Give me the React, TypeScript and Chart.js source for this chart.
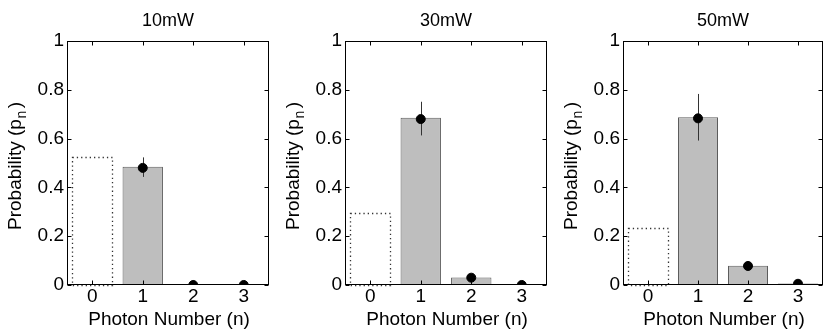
import React, { useEffect, useRef } from 'react';
import { Chart, registerables } from 'chart.js';

Chart.register(...registerables);

// ---------- data ----------
const categories = ['0', '1', '2', '3'];
const panelTitles = ['10mW', '30mW', '50mW'];

const bars10 = [0.525, 0.485, 0.003, 0];
const bars30 = [0.297, 0.685, 0.031, 0.001];
const bars50 = [0.235, 0.687, 0.079, 0.006];

const dots10 = [null, 0.48, 0.0, 0.0];
const dots30 = [null, 0.68, 0.03, 0.0];
const dots50 = [null, 0.683, 0.078, 0.005];

const errLow10 = [null, 0.443, null, null];
const errHigh10 = [null, 0.523, null, null];
const errLow30 = [null, 0.613, null, null];
const errHigh30 = [null, 0.751, null, null];
const errLow50 = [null, 0.592, null, null];
const errHigh50 = [null, 0.783, null, null];

const xTitle = 'Photon Number (n)';
const yTitleMain = 'Probability (p';
const yTitleSub = 'n';
const yTitleEnd = ')';

const allBars = [bars10, bars30, bars50];
const allDots = [dots10, dots30, dots50];
const allErrLow = [errLow10, errLow30, errLow50];
const allErrHigh = [errHigh10, errHigh30, errHigh50];

// ---------- layout ----------
const panelWidths = [278, 278, 274];
const rightPads = [9, 9, 7];
const FONT = '"Liberation Sans", Arial, Helvetica, sans-serif';

const panelPlugin = {
  id: 'panel',
  afterDatasetDraw(chart: any, args: any, opts: any) {
    if (args.index !== 0) return;
    const ctx = chart.ctx;
    const y = chart.scales.y;
    const meta = chart.getDatasetMeta(0);
    // dotted outline for bar 0
    const el = meta.data[0];
    const p = el.getProps(['x', 'y', 'base', 'width'], true);
    ctx.save();
    ctx.setLineDash([1.3, 3]);
    ctx.strokeStyle = '#333';
    ctx.lineWidth = 1.3;
    ctx.strokeRect(Math.round(p.x - p.width / 2) + 0.5, Math.round(p.y) + 0.5, Math.round(p.width), Math.round(p.base - p.y));
    ctx.restore();
    // error bars
    const lo = opts.errLow || [];
    const hi = opts.errHigh || [];
    ctx.save();
    ctx.strokeStyle = '#333';
    ctx.lineWidth = 1;
    for (let i = 0; i < meta.data.length; i++) {
      if (lo[i] == null || hi[i] == null) continue;
      const bx = Math.round(meta.data[i].x) + 0.5;
      ctx.beginPath();
      ctx.moveTo(bx, y.getPixelForValue(lo[i]));
      ctx.lineTo(bx, y.getPixelForValue(hi[i]));
      ctx.stroke();
    }
    ctx.restore();
  },
  afterDraw(chart: any, _args: any, opts: any) {
    const ctx = chart.ctx;
    const a = chart.chartArea;
    const xs = chart.scales.x;
    const ys = chart.scales.y;
    ctx.save();
    // frame
    ctx.strokeStyle = '#000';
    ctx.lineWidth = 1;
    const L = Math.round(a.left) + 0.5;
    const R = Math.round(a.right) - 0.5;
    const T = Math.round(a.top) + 0.5;
    const B = Math.round(a.bottom) - 0.5;
    ctx.strokeRect(L, T, R - L, B - T);
    // inward ticks
    const tl = 4;
    ctx.beginPath();
    ys.ticks.forEach((t: any) => {
      const py = Math.round(ys.getPixelForValue(t.value)) + 0.5;
      ctx.moveTo(L, py); ctx.lineTo(L + tl, py);
      ctx.moveTo(R, py); ctx.lineTo(R - tl, py);
    });
    xs.ticks.forEach((_t: any, i: number) => {
      const px = Math.round(xs.getPixelForTick(i)) + 0.5;
      ctx.moveTo(px, T); ctx.lineTo(px, T + tl);
      ctx.moveTo(px, B); ctx.lineTo(px, B - tl);
    });
    ctx.stroke();
    // title
    ctx.fillStyle = '#000';
    ctx.textAlign = 'center';
    ctx.textBaseline = 'middle';
    ctx.font = `18px ${FONT}`;
    const cx = (a.left + a.right) / 2;
    ctx.fillText(opts.title, cx, 21);
    // x title
    ctx.font = `19px ${FONT}`;
    ctx.fillText(xTitle, cx + 1, 320);
    // y title with subscript
    const cy = 166;
    ctx.translate(21, cy);
    ctx.rotate(-Math.PI / 2);
    ctx.textAlign = 'left';
    ctx.textBaseline = 'alphabetic';
    const mainFont = `19px ${FONT}`;
    const subFont = `14px ${FONT}`;
    ctx.font = mainFont;
    const w1 = ctx.measureText(yTitleMain).width;
    const w3 = ctx.measureText(yTitleEnd).width;
    ctx.font = subFont;
    const w2 = ctx.measureText(yTitleSub).width + 3;
    const total = w1 + w2 + w3;
    let x0 = -total / 2;
    ctx.font = mainFont;
    ctx.fillText(yTitleMain, x0, 0);
    x0 += w1;
    ctx.font = subFont;
    ctx.fillText(yTitleSub, x0 + 0.5, 5);
    x0 += w2;
    ctx.font = mainFont;
    ctx.fillText(yTitleEnd, x0, 0);
    ctx.restore();
  },
};

function Panel({ idx }: { idx: number }) {
  const ref = useRef<HTMLCanvasElement>(null);
  useEffect(() => {
    const bars = allBars[idx];
    const chart = new Chart(ref.current as HTMLCanvasElement, {
      type: 'bar',
      data: {
        labels: categories,
        datasets: [
          {
            type: 'bar',
            data: bars,
            backgroundColor: categories.map((_, i) => (i === 0 ? 'rgba(0,0,0,0)' : '#bebebe')),
            borderColor: '#5c5c5c',
            borderWidth: categories.map((_, i) => (i === 0 ? 0 : 1)),
            borderSkipped: false,
            barPercentage: 0.8,
            categoryPercentage: 1,
            order: 1,
          } as any,
          {
            type: 'line',
            data: allDots[idx],
            showLine: false,
            pointRadius: 4.5,
            pointBackgroundColor: '#000',
            pointBorderColor: '#000',
            borderColor: '#000',
            order: 0,
          } as any,
        ],
      },
      options: {
        responsive: false,
        animation: false,
        devicePixelRatio: 1,
        layout: { padding: { top: 41, right: rightPads[idx], left: 0, bottom: 0 } },
        plugins: {
          legend: { display: false },
          tooltip: { enabled: false },
          title: { display: false },
          panel: { title: panelTitles[idx], errLow: allErrLow[idx], errHigh: allErrHigh[idx] },
        } as any,
        scales: {
          x: {
            type: 'category',
            offset: true,
            grid: { display: false, drawTicks: false },
            border: { display: false },
            ticks: { color: '#000', font: { family: FONT, size: 19 }, padding: 0, maxRotation: 0 },
            afterFit: (s: any) => { s.height = 47; },
          },
          y: {
            min: 0,
            max: 1,
            grid: { display: false, drawTicks: false },
            border: { display: false },
            ticks: {
              stepSize: 0.2,
              color: '#000',
              font: { family: FONT, size: 19 },
              padding: 3,
              callback: (v: any) => {
                const n = Number(v);
                if (Math.abs(n) < 1e-9) return '0';
                if (Math.abs(n - 1) < 1e-9) return '1';
                return n.toFixed(1);
              },
            },
            afterFit: (s: any) => { s.width = 67; },
          },
        } as any,
      },
      plugins: [panelPlugin as any],
    });
    return () => chart.destroy();
  }, [idx]);
  return (
    <canvas
      ref={ref}
      width={panelWidths[idx]}
      height={332}
      style={{ display: 'block', width: panelWidths[idx], height: 332 }}
    />
  );
}

export default function App() {
  useEffect(() => {
    document.body.style.margin = '0';
  }, []);
  return (
    <div style={{ display: 'flex', width: 830, height: 332, overflow: 'hidden', background: '#fff' }}>
      {[0, 1, 2].map((i) => (
        <Panel key={i} idx={i} />
      ))}
    </div>
  );
}
